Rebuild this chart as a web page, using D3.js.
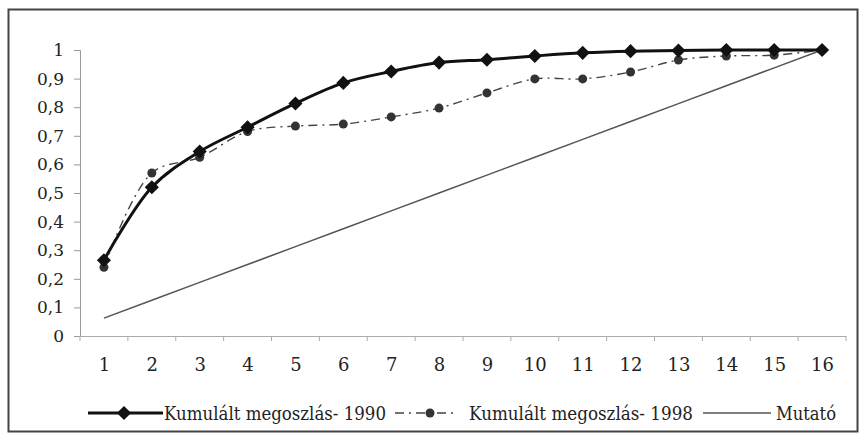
<!DOCTYPE html>
<html>
<head>
<meta charset="utf-8">
<script src="https://cdn.jsdelivr.net/npm/d3@7"></script>
<style>
  body { margin: 0; background: #fff; }
</style>
</head>
<body>
<div id="chart"></div>
<script>
const categories = ['1', '2', '3', '4', '5', '6', '7', '8', '9', '10', '11', '12', '13', '14', '15', '16'];
const kum1990 = [0.265, 0.52, 0.645, 0.73, 0.813, 0.885, 0.925, 0.956, 0.966, 0.979, 0.99, 0.996, 0.998, 1.0, 1.0, 1.0];
const kum1998 = [0.24, 0.57, 0.625, 0.715, 0.734, 0.741, 0.766, 0.797, 0.85, 0.899, 0.899, 0.923, 0.965, 0.979, 0.982, 1.0];
const mutato = [0.0625, 0.125, 0.1875, 0.25, 0.3125, 0.375, 0.4375, 0.5, 0.5625, 0.625, 0.6875, 0.75, 0.8125, 0.875, 0.9375, 1.0];
const yTicks = [0, 0.1, 0.2, 0.3, 0.4, 0.5, 0.6, 0.7, 0.8, 0.9, 1];
const seriesNames = ['Kumulált megoszlás- 1990', 'Kumulált megoszlás- 1998', 'Mutató'];

// Liberation Serif falls back to a sans face here, DejaVu Serif renders fine
const FONT = 'DejaVu Serif';
const width = 864, height = 440;
const plot = { left: 80, right: 846, top: 50, bottom: 336 };

const svg = d3.select('#chart').append('svg')
    .attr('width', width)
    .attr('height', height)
    .attr('font-family', FONT);

// outer frame
svg.append('rect')
    .attr('x', 8.5).attr('y', 9.5)
    .attr('width', 849).attr('height', 422)
    .attr('fill', 'none')
    .attr('stroke', '#444')
    .attr('stroke-width', 2);

const x = d3.scalePoint()
    .domain(categories)
    .range([plot.left, plot.right])
    .padding(0.5);

const y = d3.scaleLinear()
    .domain([0, 1])
    .range([plot.bottom, plot.top]);

// y axis
const yAxis = svg.append('g')
    .attr('transform', `translate(${plot.left}, 0)`)
    .call(d3.axisLeft(y)
        .tickValues(yTicks)
        .tickSize(6)
        .tickPadding(10)
        .tickFormat(d => String(d).replace('.', ',')));
yAxis.attr('font-family', FONT);
yAxis.select('.domain').attr('stroke', '#999');
yAxis.selectAll('.tick line').attr('stroke', '#999');
yAxis.selectAll('text')
    .attr('font-size', 17)
    .attr('fill', '#222');

// x axis, ticks between categories like a category axis
const xAxis = svg.append('g')
    .attr('transform', `translate(0, ${plot.bottom})`)
    .call(d3.axisBottom(x).tickSize(0).tickPadding(22));
xAxis.attr('font-family', FONT);
xAxis.select('.domain').attr('stroke', '#aaa');
xAxis.selectAll('text')
    .attr('font-size', 18)
    .attr('fill', '#222');
xAxis.selectAll('.sep')
    .data(d3.range(categories.length + 1))
    .enter()
        .append('line')
        .attr('class', 'sep')
        .attr('x1', i => plot.left + i * x.step())
        .attr('x2', i => plot.left + i * x.step())
        .attr('y1', 0).attr('y2', 5)
        .attr('stroke', '#aaa');

const curve = d3.curveCatmullRom.alpha(0.5);

// Mutató
svg.append('path')
    .datum(mutato)
    .attr('fill', 'none')
    .attr('stroke', '#555')
    .attr('stroke-width', 1.6)
    .attr('d', d3.line().x((d, i) => x(categories[i])).y(d => y(d)));

// 1998
svg.append('path')
    .datum(kum1998)
    .attr('fill', 'none')
    .attr('stroke', '#444')
    .attr('stroke-width', 1.4)
    .attr('stroke-dasharray', '9,5,2,5')
    .attr('d', d3.line().x((d, i) => x(categories[i])).y(d => y(d)).curve(curve));

svg.append('g').selectAll('circle')
    .data(kum1998)
    .enter()
        .append('circle')
        .attr('cx', (d, i) => x(categories[i]))
        .attr('cy', d => y(d))
        .attr('r', 4.5)
        .attr('fill', '#333');

// 1990
svg.append('path')
    .datum(kum1990)
    .attr('fill', 'none')
    .attr('stroke', '#111')
    .attr('stroke-width', 3)
    .attr('d', d3.line().x((d, i) => x(categories[i])).y(d => y(d)).curve(curve));

const diamond = d3.symbol(d3.symbolSquare, 100);
svg.append('g').selectAll('path')
    .data(kum1990)
    .enter()
        .append('path')
        .attr('d', diamond)
        .attr('transform', (d, i) => `translate(${x(categories[i])}, ${y(d)}) rotate(45)`)
        .attr('fill', '#111');

// legend
const legendY = 413;
const legend = svg.append('g');

legend.append('line')
    .attr('x1', 88).attr('x2', 163).attr('y1', legendY).attr('y2', legendY)
    .attr('stroke', '#111').attr('stroke-width', 3);
legend.append('path')
    .attr('d', diamond)
    .attr('transform', `translate(124, ${legendY}) rotate(45)`)
    .attr('fill', '#111');
legend.append('text')
    .attr('x', 164).attr('y', legendY + 7)
    .attr('font-size', 18)
    .attr('fill', '#222')
    .attr('textLength', 222)
    .attr('lengthAdjust', 'spacingAndGlyphs')
    .text(seriesNames[0]);

legend.append('line')
    .attr('x1', 395).attr('x2', 458).attr('y1', legendY).attr('y2', legendY)
    .attr('stroke', '#444').attr('stroke-width', 1.4)
    .attr('stroke-dasharray', '9,5,2,5');
legend.append('circle')
    .attr('cx', 430).attr('cy', legendY).attr('r', 4.5).attr('fill', '#333');
legend.append('text')
    .attr('x', 469).attr('y', legendY + 7)
    .attr('font-size', 18)
    .attr('fill', '#222')
    .attr('textLength', 224)
    .attr('lengthAdjust', 'spacingAndGlyphs')
    .text(seriesNames[1]);

legend.append('line')
    .attr('x1', 703).attr('x2', 771).attr('y1', legendY).attr('y2', legendY)
    .attr('stroke', '#555').attr('stroke-width', 1.6);
legend.append('text')
    .attr('x', 776).attr('y', legendY + 7)
    .attr('font-size', 18)
    .attr('fill', '#222')
    .attr('textLength', 60)
    .attr('lengthAdjust', 'spacingAndGlyphs')
    .text(seriesNames[2]);
</script>
</body>
</html>
